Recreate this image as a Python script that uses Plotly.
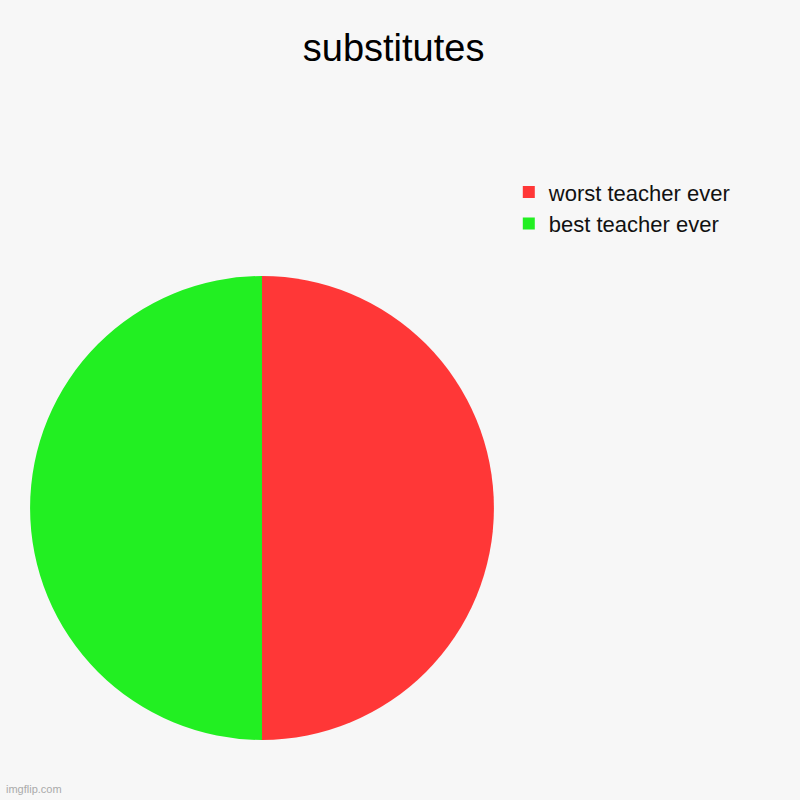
import plotly.graph_objects as go

labels = ["worst teacher ever", "best teacher ever"]
values = [1, 1]
colors = ["#ff3737", "#22ef22"]

pie = go.Pie(
    labels=labels,
    values=values,
    sort=False,
    direction="clockwise",
    rotation=0,
    textinfo="none",
    hoverinfo="label+percent",
    marker=dict(colors=colors, line=dict(color="#666666", width=0)),
    domain=dict(x=[0.0375, 0.6175], y=[0.075, 0.655]),
)

fig = go.Figure(data=[pie])

fig.update_layout(
    width=800,
    height=800,
    paper_bgcolor="#f7f7f7",
    plot_bgcolor="#f7f7f7",
    margin=dict(l=0, r=0, t=0, b=0),
    font=dict(family="Liberation Sans, Arial, sans-serif", color="#000000"),
    title=dict(
        text="substitutes",
        x=0.492,
        xanchor="center",
        y=0.94,
        yanchor="middle",
        font=dict(size=38, color="#000000"),
    ),
    legend=dict(
        x=0.636,
        y=0.786,
        xanchor="left",
        yanchor="top",
        font=dict(size=22, color="#111111"),
        itemsizing="constant",
        bgcolor="rgba(0,0,0,0)",
    ),
    showlegend=True,
    annotations=[
        dict(
            text="imgflip.com",
            x=0.005,
            y=0.004,
            xref="paper",
            yref="paper",
            xanchor="left",
            yanchor="bottom",
            showarrow=False,
            font=dict(size=11, color="#aaaaaa"),
        )
    ],
)

# drop the page's default body margin so the figure sits at the window corner
fig.write_html(
    "out.html",
    config={"displayModeBar": False},
    post_script="document.body.style.margin='0';",
)
